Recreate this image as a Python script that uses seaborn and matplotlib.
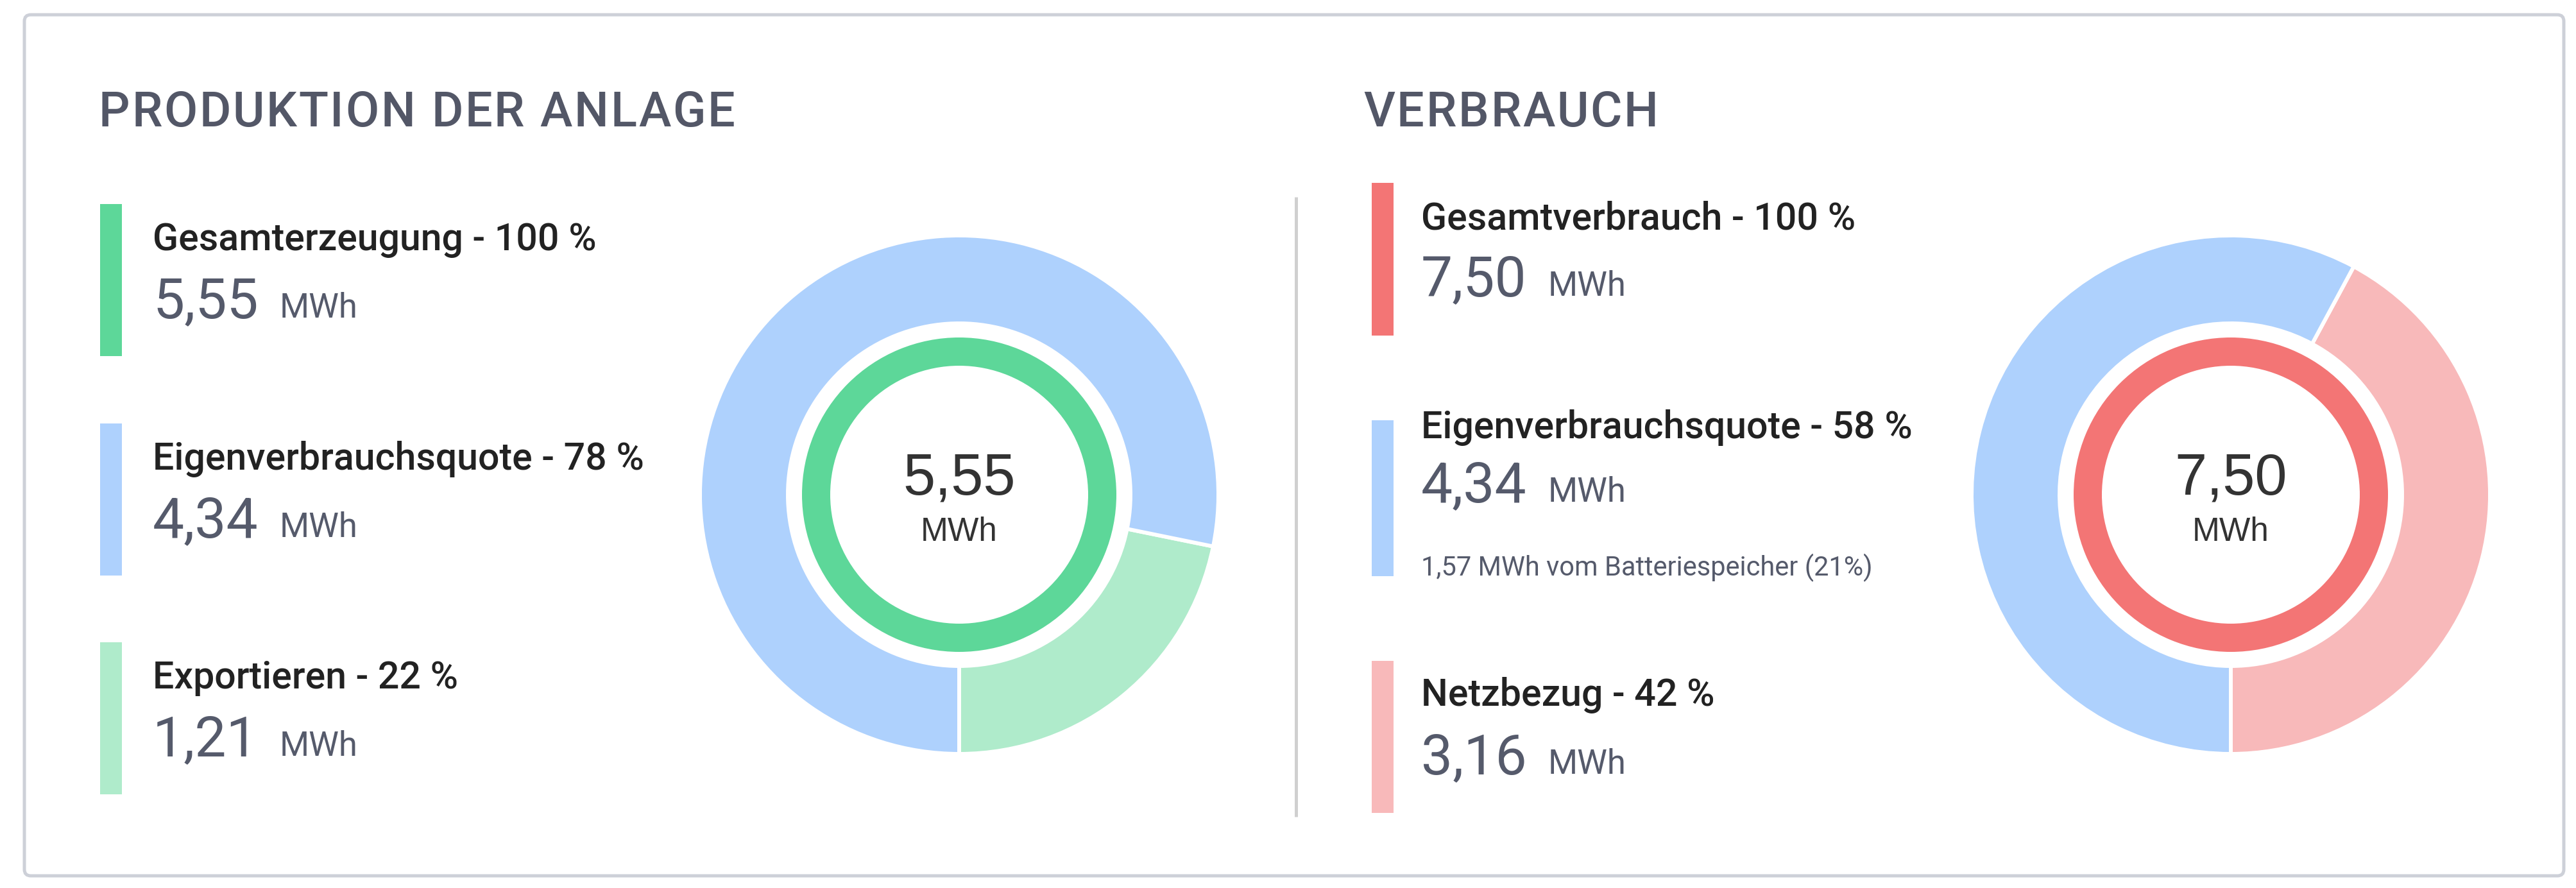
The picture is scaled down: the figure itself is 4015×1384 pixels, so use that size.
import matplotlib
matplotlib.use("Agg")
import matplotlib.pyplot as plt
from matplotlib.patches import Rectangle, FancyBboxPatch
import seaborn as sns

# --- data ---
prod_title = "PRODUKTION DER ANLAGE"
prod_labels = ["Gesamterzeugung", "Eigenverbrauchsquote", "Exportieren"]
prod_pct = [100, 78, 22]
prod_mwh = [5.55, 4.34, 1.21]
prod_colors = ["#5DD799", "#AED1FD", "#AFEBCB"]

cons_title = "VERBRAUCH"
cons_labels = ["Gesamtverbrauch", "Eigenverbrauchsquote", "Netzbezug"]
cons_pct = [100, 58, 42]
cons_mwh = [7.50, 4.34, 3.16]
cons_colors = ["#F37575", "#AED1FD", "#F8B9BA"]

battery_mwh = 1.57
battery_pct = 21
unit = "MWh"

W, H = 4016, 1384
TITLE_C = "#535767"
LABEL_C = "#222222"
NUM_C = "#555A6B"


def de(v):
    return f"{v:.2f}".replace(".", ",")


sns.set_theme(style="white")
plt.rcParams["font.family"] = ["Roboto", "DejaVu Sans"]

fig = plt.figure(figsize=(W / 100, H / 100), dpi=100)
fig.patch.set_facecolor("white")
ax = fig.add_axes([0, 0, 1, 1])
ax.set_xlim(0, W)
ax.set_ylim(H, 0)
ax.axis("off")
renderer = fig.canvas.get_renderer()

# card frame and divider
ax.add_patch(FancyBboxPatch((38, 23), 3958, 1342, boxstyle="round,pad=0,rounding_size=10",
                            fc="white", ec="#CDD0D8", lw=3.6, zorder=0))
ax.plot([2020, 2020], [307, 1273], color="#D0D0D0", lw=3.6, solid_capstyle="butt")


def spaced_title(x, y, s, spacing=2.8, **kw):
    # matplotlib has no letter-spacing, so place the characters one by one
    for i, ch in enumerate(s):
        t = ax.text(0, y, s[:i] or " ", alpha=0, **kw)
        w = t.get_window_extent(renderer).width if i else 0
        t.remove()
        ax.text(x + w + i * spacing, y, ch, va="baseline", ha="left", **kw)


def block(x_bar, x_txt, top, h, color, label, pct, mwh, title_off=72, num_off=177):
    ax.add_patch(Rectangle((x_bar, top), 34, h, fc=color, ec="none"))
    ax.text(x_txt, top + title_off, f"{label} - {pct} %", fontsize=42.5, fontweight="medium",
            color=LABEL_C, va="baseline", ha="left")
    ax.text(x_txt, top + num_off, de(mwh), fontsize=63, color=NUM_C,
            va="baseline", ha="left")
    ax.text(x_txt + 198, top + num_off, unit, fontsize=38, color=NUM_C,
            va="baseline", ha="left")


title_kw = dict(fontsize=54.5, color=TITLE_C, fontweight="medium")

# left panel
spaced_title(154, 197, prod_title, **title_kw)
for i, top in enumerate([318, 660, 1001]):
    block(156, 238, top, 237, prod_colors[i], prod_labels[i], prod_pct[i], prod_mwh[i])

# right panel
spaced_title(2125, 197, cons_title, **title_kw)
block(2138, 2215, 285, 238, cons_colors[0], cons_labels[0], cons_pct[0], cons_mwh[0], 73, 176)
block(2138, 2215, 655, 243, cons_colors[1], cons_labels[1], cons_pct[1], cons_mwh[1], 28, 127)
ax.text(2215, 897, f"{de(battery_mwh)} {unit} vom Batteriespeicher ({battery_pct}%)",
        fontsize=30, color=NUM_C, va="baseline", ha="left")
block(2138, 2215, 1030, 237, cons_colors[2], cons_labels[2], cons_pct[2], cons_mwh[2], 70, 176)


def donut(cx, cy, parts, part_colors, ring_color, total):
    half = 450
    pax = fig.add_axes([(cx - half) / W, (H - cy - half) / H, 2 * half / W, 2 * half / H])
    pax.pie(parts, radius=404, startangle=-90, counterclock=True, colors=part_colors,
            wedgeprops=dict(width=137, edgecolor="white", linewidth=4.3))
    pax.pie([1], radius=245, colors=[ring_color], wedgeprops=dict(width=44, linewidth=0))
    pax.set_xlim(-half, half)
    pax.set_ylim(-half, half)
    pax.set_aspect("equal")
    pax.axis("off")
    pax.text(0, 0, de(total), fontsize=65, color="#333333", family="Liberation Sans",
             ha="center", va="baseline")
    pax.text(0, -72, unit, fontsize=37, color="#333333", family="Liberation Sans",
             ha="center", va="baseline")


# outer ring: second-level split, inner ring: total
donut(1495, 771, [prod_mwh[2], prod_mwh[1]], [prod_colors[2], prod_colors[1]],
      prod_colors[0], prod_mwh[0])
donut(3477, 771, [cons_mwh[2], cons_mwh[1]], [cons_colors[2], cons_colors[1]],
      cons_colors[0], cons_mwh[0])

fig.savefig("out.png", dpi=100, facecolor="white")
